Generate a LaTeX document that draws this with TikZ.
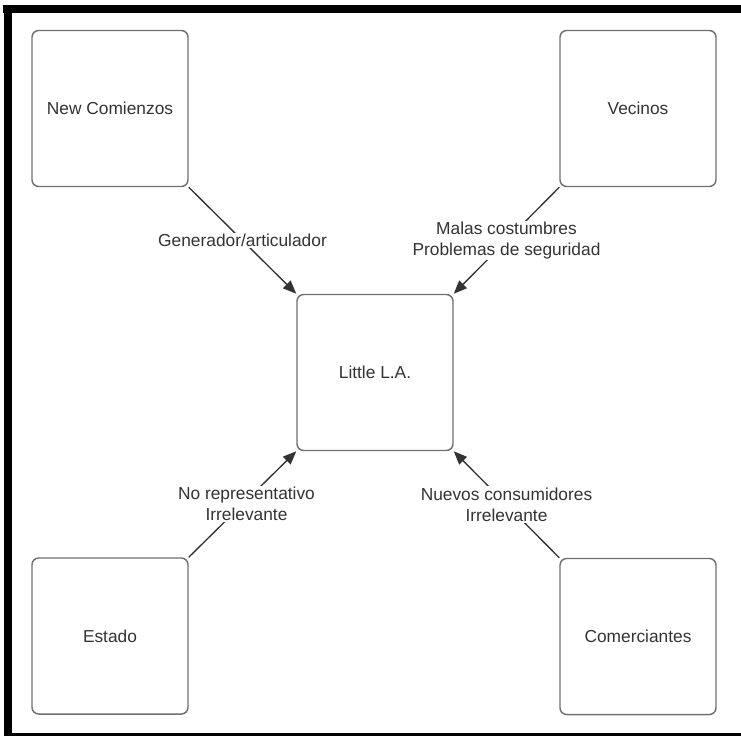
\documentclass[tikz,border=0pt]{standalone}
\usepackage{fontspec}
\setmainfont{Liberation Sans}
\usetikzlibrary{arrows.meta}
\definecolor{boxline}{RGB}{112,112,112}
\definecolor{inkgray}{RGB}{51,51,51}

\begin{document}
\begin{tikzpicture}[x=0.75pt, y=-0.75pt,
    actor/.style={rectangle, rounded corners=5pt, minimum width=117pt,
                  minimum height=117pt, draw=boxline, line width=1.1pt,
                  text=inkgray, font=\fontsize{13}{15.75}\selectfont},
    link/.style={-{Triangle[length=10pt,width=8pt]}, draw=inkgray, line width=1pt},
    tag/.style={fill=white, align=center, inner sep=1pt, text=inkgray,
                font=\fontsize{13}{15.75}\selectfont}
  ]
    \useasboundingbox (0,0) rectangle (741,736);
    % marco negro
    \fill[black] (3,5) rectangle (741,13);
    \fill[black] (4,5) rectangle (12,736);
    \fill[black] (4,733) rectangle (741,736);

    \node[actor] (nc) at (110,108.5) {New Comienzos};
    \node[actor] (ve) at (638,108.5) {Vecinos};
    \node[actor] (la) at (375,372.5) {Little L.A.};
    \node[actor] (es) at (110,636)   {Estado};
    \node[actor] (co) at (638,636.5) {Comerciantes};

    \draw[link] (nc.south east) -- node[tag] {Generador/articulador} (la.north west);
    \draw[link] (ve.south west) -- node[tag] {Malas costumbres\\Problemas de seguridad} (la.north east);
    \draw[link] (es.north east) -- node[tag, xshift=3pt] {No representativo\\Irrelevante} (la.south west);
    \draw[link] (co.north west) -- node[tag] {Nuevos consumidores\\Irrelevante} (la.south east);
  \end{tikzpicture}
\end{document}
